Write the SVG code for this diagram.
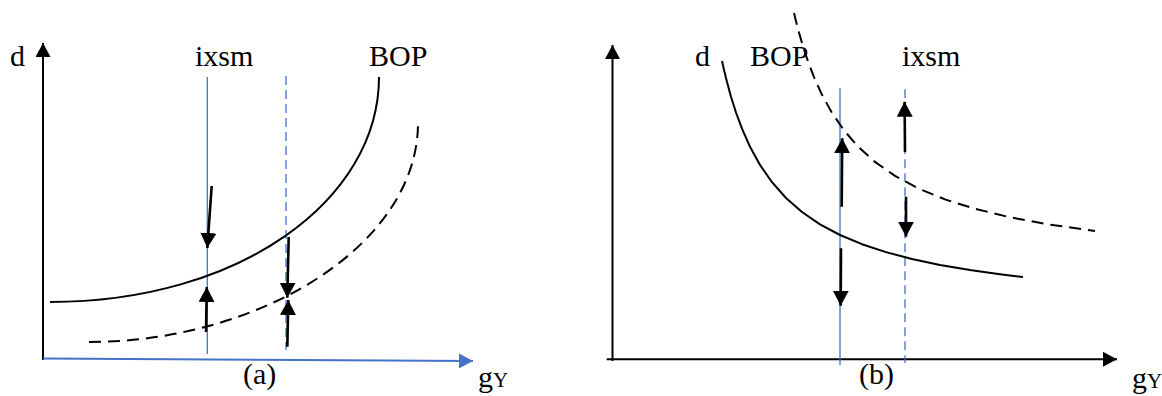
<svg xmlns="http://www.w3.org/2000/svg" width="1162" height="396" viewBox="0 0 1162 396">
<style>
.ax{fill:none;stroke:#000;stroke-width:2}
.axb{fill:none;stroke:#4472C4;stroke-width:1.8}
.cv{fill:none;stroke:#000;stroke-width:2;stroke-linejoin:round}
.cvd{fill:none;stroke:#000;stroke-width:2;stroke-dasharray:12 7;stroke-linejoin:round}
.bl{fill:none;stroke:#4472C4;stroke-width:1.3}
.bld{fill:none;stroke:#4472C4;stroke-width:1.3;stroke-dasharray:9 5}
.ar{fill:none;stroke:#000;stroke-width:2.6;marker-end:url(#ah)}
text{font-family:'Liberation Serif','DejaVu Serif',serif;font-size:30px;fill:#000}
.s{font-size:21px}
</style>
<defs>
<marker id="ah" viewBox="0 0 15 16" refX="15" refY="8" markerWidth="15" markerHeight="16" markerUnits="userSpaceOnUse" orient="auto">
<path d="M0,0L15,8L0,16Z" fill="#000"/>
</marker>
<marker id="ahx" viewBox="0 0 14 15" refX="14" refY="7.5" markerWidth="14" markerHeight="15" markerUnits="userSpaceOnUse" orient="auto">
<path d="M0,0L14,7.5L0,15Z" fill="#000"/>
</marker>
<marker id="ahb" viewBox="0 0 14 15" refX="14" refY="7.5" markerWidth="14" markerHeight="15" markerUnits="userSpaceOnUse" orient="auto">
<path d="M0,0L14,7.5L0,15Z" fill="#4472C4"/>
</marker>
</defs>

<g id="panel-a">
<g id="a-axes">
<line class="ax" x1="43" y1="360" x2="43" y2="43" marker-end="url(#ahx)"/>
<line class="axb" x1="43" y1="358.5" x2="473" y2="361" marker-end="url(#ahb)"/>
</g>
<g id="a-ixsm">
<line class="bl" x1="207.3" y1="77" x2="207.3" y2="354"/>
<line class="bld" x1="286" y1="76" x2="286" y2="350"/>
</g>
<g id="a-bop">
<path class="cv" d="M50,302 C240,302 379,200 379,77"/>
<path class="cvd" d="M89,342 C260,342 418,245 418,123"/>
</g>
<g id="connectors-a">
<line class="ar" x1="211.7" y1="186" x2="207.3" y2="248"/>
<line class="ar" x1="206" y1="332" x2="206.8" y2="287"/>
<line class="ar" x1="288.7" y1="237" x2="287.3" y2="297.7"/>
<line class="ar" x1="287.3" y1="346.7" x2="288.3" y2="300"/>
</g>
<g id="a-labels">
<text font-family="Liberation Serif, DejaVu Serif, serif" x="10" y="66">d</text>
<text font-family="Liberation Serif, DejaVu Serif, serif" x="195" y="66">ixsm</text>
<text font-family="Liberation Serif, DejaVu Serif, serif" x="369" y="66">BOP</text>
<text font-family="Liberation Serif, DejaVu Serif, serif" x="243" y="384">(a)</text>
<text font-family="Liberation Serif, DejaVu Serif, serif" x="478" y="387">g<tspan class="s">Y</tspan></text>
</g>
</g>

<g id="panel-b">
<g id="b-axes">
<line class="ax" x1="612.5" y1="361" x2="612.5" y2="45" marker-end="url(#ahx)"/>
<line class="ax" x1="606.7" y1="359.3" x2="1117" y2="359.3" marker-end="url(#ahx)"/>
</g>
<g id="b-ixsm">
<line class="bl" x1="840" y1="88.3" x2="840" y2="365"/>
<line class="bld" x1="905" y1="89.3" x2="905" y2="363"/>
</g>
<g id="b-bop">
<path class="cv" d="M722,61 L724,69.9 L727,82.1 L731,96.7 L736,112.5 L742,128.7 L750,146.8 L760,164.9 L772,182.2 L786,198 L802,212 L820,224.3 L840,235 L862,244.2 L886,252.1 L912,259 L940,264.9 L970,270 L1000,274.2 L1023,277"/>
<path class="cvd" d="M794,13 L796,21.2 L799,32.6 L803,46.3 L808,61.4 L814,77.1 L822,94.8 L832,112.9 L844,130.4 L858,146.5 L875,161.9 L895,175.9 L918,188.3 L945,199.4 L975,208.8 L1010,217.3 L1050,224.6 L1095,231"/>
</g>
<g id="connectors-b">
<line class="ar" x1="841.7" y1="206.7" x2="842.2" y2="138.3"/>
<line class="ar" x1="841" y1="248.3" x2="840.7" y2="305.7"/>
<line class="ar" x1="905" y1="152" x2="904.6" y2="101.7"/>
<line class="ar" x1="906" y1="196.7" x2="906" y2="236.7"/>
</g>
<g id="b-labels">
<text font-family="Liberation Serif, DejaVu Serif, serif" x="695" y="66">d</text>
<text font-family="Liberation Serif, DejaVu Serif, serif" x="750" y="66">BOP</text>
<text font-family="Liberation Serif, DejaVu Serif, serif" x="902" y="66">ixsm</text>
<text font-family="Liberation Serif, DejaVu Serif, serif" x="859" y="384">(b)</text>
<text font-family="Liberation Serif, DejaVu Serif, serif" x="1132" y="388">g<tspan class="s">Y</tspan></text>
</g>
</g>
</svg>
